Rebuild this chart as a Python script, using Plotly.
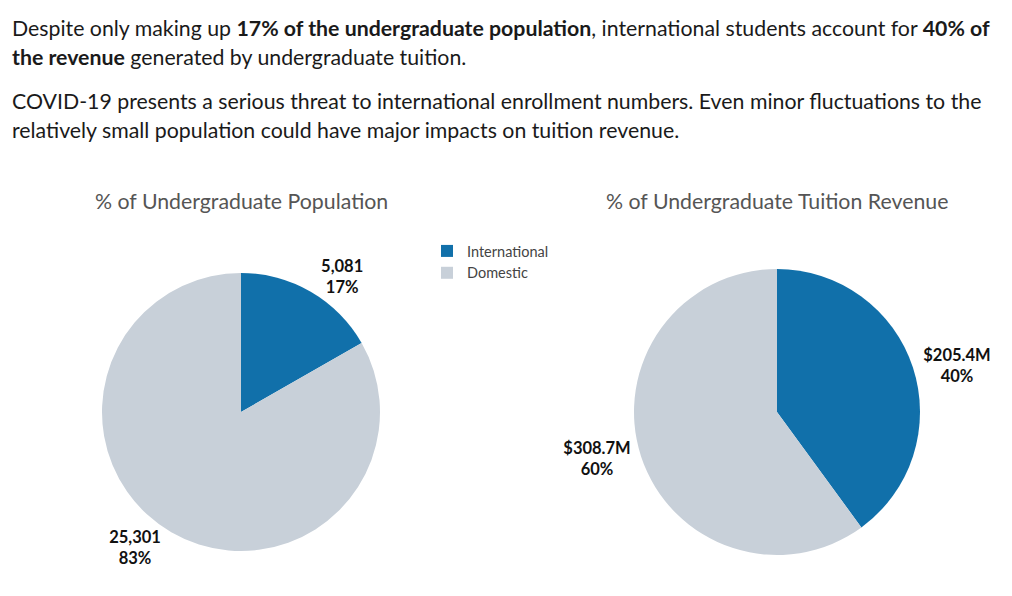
import plotly.graph_objects as go

labels = ["International", "Domestic"]
population = [5081, 25301]
revenue_m = [205.4, 308.7]
colors = ["#1170aa", "#c8d0d9"]

titles = ["% of Undergraduate Population", "% of Undergraduate Tuition Revenue"]
intro_lines = [
    "Despite only making up <b>17% of the undergraduate population</b>, international students account for <b>40% of</b>",
    "<b>the revenue</b> generated by undergraduate tuition.",
    "COVID-19 presents a serious threat to international enrollment numbers. Even minor fluctuations to the",
    "relatively small population could have major impacts on tuition revenue.",
]

FONT = "Lato"
W, H = 1012, 596

fig = go.Figure()
fig.add_trace(go.Pie(
    labels=labels, values=population, sort=False, direction="clockwise", rotation=0,
    marker=dict(colors=colors, line=dict(width=0)),
    texttemplate="<b>%{value:,}</b><br><b>%{percent:.0%}</b>",
    textposition="outside", textfont=dict(family=FONT, size=16.5, color="#111111"),
    hoverinfo="label+value+percent",
    domain=dict(x=[102 / W, 380 / W], y=[(H - 551) / H, (H - 273) / H]),
    showlegend=True,
))
fig.add_trace(go.Pie(
    labels=labels, values=revenue_m, sort=False, direction="clockwise", rotation=0,
    marker=dict(colors=colors, line=dict(width=0)),
    texttemplate="<b>$%{value:.1f}M</b><br><b>%{percent:.0%}</b>",
    textposition="outside", textfont=dict(family=FONT, size=16.5, color="#111111"),
    hoverinfo="label+value+percent",
    domain=dict(x=[634 / W, 920 / W], y=[(H - 555) / H, (H - 269) / H]),
    showlegend=True,
))

annotations = []
line_y = [28, 57, 101, 130]
for txt, yy in zip(intro_lines, line_y):
    annotations.append(dict(
        text=txt, xref="paper", yref="paper", x=10 / W, y=1 - yy / H,
        xanchor="left", yanchor="middle", showarrow=False, align="left",
        font=dict(family=FONT, size=21.3, color="#1a1a1a"),
    ))
for t, cx in zip(titles, [241, 777]):
    annotations.append(dict(
        text=t, xref="paper", yref="paper", x=cx / W, y=1 - 201 / H,
        xanchor="center", yanchor="middle", showarrow=False,
        font=dict(family=FONT, size=21.3, color="#555555"),
    ))

fig.update_layout(
    width=W, height=H,
    margin=dict(l=0, r=0, t=0, b=0),
    paper_bgcolor="white", plot_bgcolor="white",
    font=dict(family=FONT),
    annotations=annotations,
    legend=dict(
        x=427 / W, y=1 - 235 / H, xanchor="left", yanchor="top",
        font=dict(family=FONT, size=14.5, color="#444444"),
        bgcolor="rgba(0,0,0,0)", itemsizing="constant", itemwidth=30, tracegroupgap=0,
    ),
)

fig.write_html("out.html")
